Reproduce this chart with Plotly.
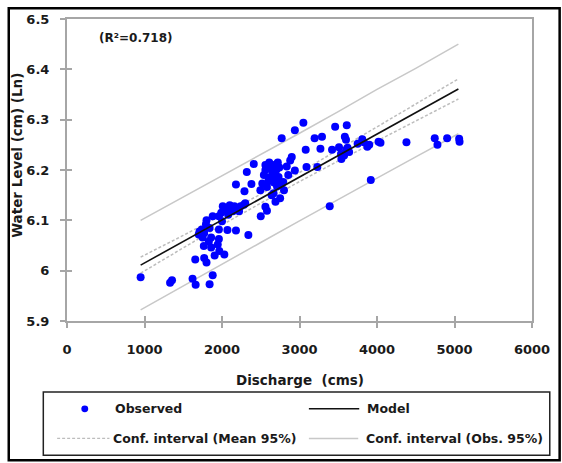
import plotly.graph_objects as go

# Observed discharge (cms) and log water level (Ln of cm)
obs_discharge = [
    950, 1330, 1355, 1620, 1660, 1840, 1880, 1655, 1770, 1800,
    1765, 1860, 1945, 1965, 1905, 2030, 1710, 1740, 1770, 1700,
    1750, 1860, 1960, 1960, 2070, 2180, 2340, 1880, 1960, 2080,
    2010, 2100, 2030, 2120, 2160, 2300, 2220, 2290, 2283, 2180,
    2380, 2320, 2410, 2500, 2560, 2580, 2690, 2750, 2520, 2580,
    2495, 2640, 2665, 2710, 2790, 2730, 2855, 2835, 2940, 3090,
    3230, 2880, 2900, 2770, 2940, 3050, 3195, 3290, 3460, 3610,
    3080, 3270, 3420, 3510, 3535, 3600, 3585, 3600, 3640, 3575,
    3540, 3620, 3750, 3810, 3830, 3875, 3900, 4020, 4045, 4380,
    4745, 4780, 4905, 5060, 5065, 3920, 3390, 2540, 2560, 2600,
    2620, 2650, 2680, 2700, 2720, 2600, 2640, 2690, 2560, 2610,
    2740, 2670, 2800, 2760, 2707, 2643, 2749, 2685, 1793, 1840,
    2000, 1830, 1800, 2240, 2140, 2050, 1990,
]
obs_level = [
    5.987, 5.976, 5.981, 5.984, 5.972, 5.973, 5.991, 6.022, 6.025, 6.016,
    6.049, 6.046, 6.052, 6.039, 6.030, 6.032, 6.078, 6.082, 6.075, 6.072,
    6.066, 6.066, 6.063, 6.082, 6.081, 6.080, 6.071, 6.108, 6.108, 6.111,
    6.128, 6.130, 6.123, 6.126, 6.128, 6.134, 6.118, 6.158, 6.131, 6.171,
    6.172, 6.196, 6.212, 6.108, 6.127, 6.119, 6.137, 6.144, 6.173, 6.166,
    6.160, 6.150, 6.154, 6.167, 6.176, 6.186, 6.190, 6.207, 6.199, 6.206,
    6.206, 6.219, 6.226, 6.263, 6.279, 6.294, 6.263, 6.266, 6.286, 6.289,
    6.240, 6.242, 6.240, 6.245, 6.232, 6.239, 6.266, 6.260, 6.236, 6.229,
    6.222, 6.244, 6.252, 6.261, 6.255, 6.246, 6.250, 6.256, 6.254, 6.255,
    6.263, 6.250, 6.263, 6.262, 6.256, 6.180, 6.128, 6.190, 6.200, 6.185,
    6.205, 6.195, 6.210, 6.200, 6.215, 6.178, 6.182, 6.190, 6.210, 6.215,
    6.205, 6.175, 6.160, 6.170, 6.212, 6.209, 6.176, 6.199, 6.092, 6.085,
    6.098, 6.058, 6.100, 6.128, 6.118, 6.120, 6.115,
]

# Regression model with its confidence bands
band_discharge = [950, 1500, 2000, 2500, 3000, 3500, 4000, 4500, 5050]
model_level = [6.011, 6.058, 6.101, 6.143, 6.186, 6.229, 6.272, 6.314, 6.361]
mean_ci_upper = [6.027, 6.070, 6.111, 6.152, 6.195, 6.240, 6.286, 6.331, 6.381]
mean_ci_lower = [5.995, 6.046, 6.091, 6.134, 6.177, 6.218, 6.258, 6.297, 6.341]
obs_ci_upper = [6.100, 6.146, 6.188, 6.230, 6.273, 6.316, 6.360, 6.402, 6.450]
obs_ci_lower = [5.922, 5.970, 6.014, 6.056, 6.099, 6.142, 6.184, 6.226, 6.272]

r_squared = 0.718

x_ticks = [0, 1000, 2000, 3000, 4000, 5000, 6000]
y_ticks = [5.9, 6.0, 6.1, 6.2, 6.3, 6.4, 6.5]

W, H = 562, 463
L, R, T, B = 67, 538, 15, 321  # plot area in pixels


def px(x):
    return (x - L) / (R - L)


def py(y):
    return (B - y) / (B - T)


FONT = "DejaVu Sans"
TXT = "#1a1a1a"
MEAN_CI = "#bdbdbd"
OBS_CI = "#c8c8c8"

fig = go.Figure()

for ys in (obs_ci_upper, obs_ci_lower):
    fig.add_trace(go.Scatter(x=band_discharge, y=ys, mode="lines",
                             line=dict(color=OBS_CI, width=1.5), showlegend=False,
                             hoverinfo="skip"))
for ys in (mean_ci_upper, mean_ci_lower):
    fig.add_trace(go.Scatter(x=band_discharge, y=ys, mode="lines",
                             line=dict(color=MEAN_CI, width=1.5, dash="3px,2px"),
                             showlegend=False, hoverinfo="skip"))

fig.add_trace(go.Scatter(x=obs_discharge, y=obs_level, mode="markers",
                         marker=dict(color="#0000ff", size=8, line=dict(width=0)),
                         name="Observed", showlegend=False))
fig.add_trace(go.Scatter(x=band_discharge, y=model_level, mode="lines",
                         line=dict(color="#111111", width=1.6), name="Model",
                         showlegend=False))

tickfont = dict(family=FONT, size=13, color=TXT, weight="bold")
axis_common = dict(showgrid=False, zeroline=False, showline=True, mirror=True,
                   linecolor="#a6a6a6", linewidth=2, ticks="outside", ticklen=5,
                   tickwidth=1.5, tickcolor="#a6a6a6", tickfont=tickfont)

fig.update_xaxes(range=[0, 6000], tickvals=x_ticks, ticklabelstandoff=10, **axis_common)
fig.update_yaxes(range=[5.9, 6.5], tickvals=y_ticks, ticklabelstandoff=8, **axis_common)

# inner halves of the crossing tick marks
fig.update_layout(
    xaxis2=dict(overlaying="x", anchor="y", side="bottom", range=[0, 6000],
                tickvals=x_ticks, ticks="inside", ticklen=5, tickwidth=1.5,
                tickcolor="#a6a6a6", showticklabels=False, showgrid=False,
                zeroline=False, showline=False),
    yaxis2=dict(overlaying="y", anchor="x", side="left", range=[5.9, 6.5],
                tickvals=y_ticks, ticks="inside", ticklen=5, tickwidth=1.5,
                tickcolor="#a6a6a6", showticklabels=False, showgrid=False,
                zeroline=False, showline=False),
)
fig.add_trace(go.Scatter(x=[None], y=[None], xaxis="x2", yaxis="y2",
                         showlegend=False, hoverinfo="skip"))

shapes = []
annotations = []

# outer frame
shapes.append(dict(type="rect", xref="paper", yref="paper",
                   x0=px(8), x1=px(566), y0=py(462), y1=py(4),
                   line=dict(color="#000000", width=2.5), layer="above"))

# legend box and entries
ROW1, ROW2 = 410, 440
shapes.append(dict(type="rect", xref="paper", yref="paper",
                   x0=px(43), x1=px(556), y0=py(457), y1=py(393),
                   line=dict(color="#222222", width=1.5)))
shapes.append(dict(type="circle", xref="paper", yref="paper",
                   x0=px(81.5), x1=px(88.5), y0=py(ROW1 + 3.5), y1=py(ROW1 - 3.5),
                   fillcolor="#0000ff", line=dict(width=0)))
shapes.append(dict(type="line", xref="paper", yref="paper",
                   x0=px(312), x1=px(363), y0=py(ROW1), y1=py(ROW1),
                   line=dict(color="#111111", width=1.5)))
shapes.append(dict(type="line", xref="paper", yref="paper",
                   x0=px(57), x1=px(110), y0=py(ROW2), y1=py(ROW2),
                   line=dict(color=MEAN_CI, width=1.2, dash="3px,2px")))
shapes.append(dict(type="line", xref="paper", yref="paper",
                   x0=px(312), x1=px(362), y0=py(ROW2), y1=py(ROW2),
                   line=dict(color=OBS_CI, width=1.5)))

legfont = dict(family=FONT, size=12.5, color=TXT, weight="bold")
for text, x, y in [("Observed", 114, ROW1), ("Model", 369, ROW1),
                   ("Conf. interval (Mean 95%)", 112, ROW2),
                   ("Conf. interval (Obs. 95%)", 368, ROW2)]:
    annotations.append(dict(text=text, xref="paper", yref="paper", x=px(x), y=py(y),
                            xanchor="left", yanchor="middle", showarrow=False,
                            font=legfont))

# axis titles and fit statistic
annotations.append(dict(text="Discharge  (cms)", xref="paper", yref="paper",
                        x=px(303), y=py(381), xanchor="center", yanchor="middle",
                        showarrow=False,
                        font=dict(family=FONT, size=13.5, color=TXT, weight="bold")))
annotations.append(dict(text="Water Level (cm) (Ln)", xref="paper", yref="paper",
                        x=px(17), y=py(153), xanchor="center", yanchor="middle",
                        textangle=-90, showarrow=False,
                        font=dict(family=FONT, size=13.5, color=TXT, weight="bold")))
annotations.append(dict(text=f"(R²={r_squared})", xref="paper", yref="paper",
                        x=px(97), y=py(34), xanchor="left", yanchor="middle",
                        showarrow=False,
                        font=dict(family=FONT, size=12, color=TXT, weight="bold")))

fig.update_layout(
    width=W, height=H, autosize=False,
    margin=dict(l=L, r=W - R, t=T, b=H - B, pad=0),
    paper_bgcolor="white", plot_bgcolor="white",
    showlegend=False, shapes=shapes, annotations=annotations,
)

fig.write_html("out.html")
